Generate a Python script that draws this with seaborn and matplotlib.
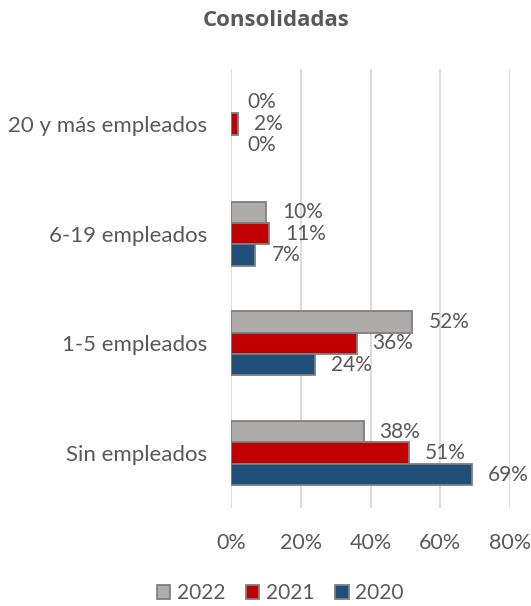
import matplotlib
matplotlib.use("Agg")
import matplotlib.pyplot as plt
import seaborn as sns
import pandas as pd
from matplotlib.patches import Patch

categories = ["20 y más empleados", "6-19 empleados", "1-5 empleados", "Sin empleados"]
years = ["2022", "2021", "2020"]
values_2022 = [0, 10, 52, 38]
values_2021 = [2, 11, 36, 51]
values_2020 = [0, 7, 24, 69]
x_ticks = [0, 20, 40, 60, 80]

colors = {"2022": "#AFABAB", "2021": "#C00000", "2020": "#1F4E79"}
text_color = "#595959"
edge_color = "#7F7F7F"

rows = []
for year, vals in zip(years, [values_2022, values_2021, values_2020]):
    for cat, v in zip(categories, vals):
        rows.append({"categoria": cat, "anio": year, "valor": v})
df = pd.DataFrame(rows)

sns.set_style("white")
plt.rcParams["font.family"] = ["Lato", "DejaVu Sans"]

W, H = 531, 606
fig = plt.figure(figsize=(W / 100, H / 100), dpi=100)
ax = fig.add_axes([231 / W, 1 - 508 / H, (510 - 231) / W, (508 - 69) / H])

sns.barplot(data=df, x="valor", y="categoria", hue="anio", order=categories,
            hue_order=years, palette=colors, saturation=1, orient="h", width=0.585,
            edgecolor=edge_color, linewidth=1.3, ax=ax, legend=False)

# value labels at the end of each bar; empty bars get no outline
for container, year in zip(ax.containers, years):
    for bar, v in zip(container, df[df["anio"] == year]["valor"]):
        if v == 0:
            bar.set_linewidth(0)
        y = bar.get_y() + bar.get_height() / 2
        ax.text(bar.get_width() + 4.6, y, f"{v}%", va="center", ha="left",
                fontsize=15, color=text_color)

ax.set_xlim(0, 80)
ax.set_xticks(x_ticks)
ax.set_xticklabels([f"{t}%" for t in x_ticks], fontsize=15.5, color=text_color)
ax.tick_params(axis="x", length=0, pad=18)
ax.tick_params(axis="y", length=0, pad=17, labelsize=16, labelcolor=text_color)
ax.set_xlabel("")
ax.set_ylabel("")
ax.grid(axis="x", color="#D9D9D9", linewidth=1.3)
ax.set_axisbelow(True)
for s in ax.spines.values():
    s.set_visible(False)

fig.text(276 / W, 1 - 21 / H, "Consolidadas", ha="center", va="center",
         fontsize=16, fontweight="bold", color=text_color,
         family=["Open Sans", "DejaVu Sans"])

handles = [Patch(facecolor=colors[y], edgecolor=edge_color, linewidth=1.3, label=y) for y in years]
fig.legend(handles=handles, loc="center", bbox_to_anchor=(280 / W, 1 - 593 / H),
           ncol=3, frameon=False, fontsize=15, handlelength=0.65, handleheight=0.65,
           handletextpad=0.3, columnspacing=1.0, labelcolor=text_color,
           borderpad=0, borderaxespad=0)

fig.savefig("out.png", dpi=100)
